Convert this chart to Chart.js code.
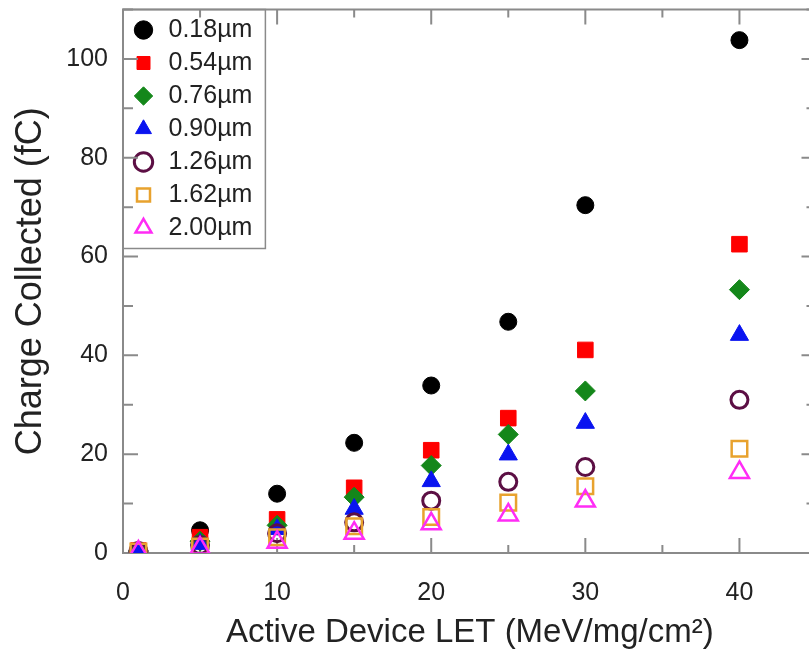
<!DOCTYPE html>
<html>
<head>
<meta charset="utf-8">
<title>Charge Collected vs LET</title>
<script src="https://cdn.jsdelivr.net/npm/chart.js@4.4.1/dist/chart.umd.min.js"></script>
<style>
  html, body { margin: 0; padding: 0; background: #fff; overflow: hidden; }
  #wrap { width: 830px; height: 672px; margin-top: -4px; }
</style>
</head>
<body>
<div id="wrap"><canvas id="chargeChart" width="830" height="672"></canvas></div>
<script>
// LET values (MeV/mg/cm2) shared by every series
const letValues = [1, 5, 10, 15, 20, 25, 30, 40];

// charge collected (fC) per feature size
const q018 = [0.5, 4.6, 12.0, 22.3, 33.9, 46.8, 70.4, 103.8];
const q054 = [0.5, 3.2, 6.8, 13.2, 20.8, 27.3, 41.1, 62.5];
const q076 = [0.4, 2.4, 5.6, 11.3, 17.7, 24.0, 32.8, 53.3];
const q090 = [0.3, 1.8, 4.8, 8.9, 14.5, 19.9, 26.3, 44.1];
const q126 = [0.4, 1.6, 4.0, 6.2, 10.6, 14.4, 17.4, 31.0];
const q162 = [0.3, 1.3, 3.2, 5.4, 7.3, 10.2, 13.5, 21.1];
const q200 = [0.2, 1.0, 2.2, 4.0, 5.9, 7.7, 10.5, 16.3];

const seriesLabels = ["0.18µm", "0.54µm", "0.76µm", "0.90µm", "1.26µm", "1.62µm", "2.00µm"];

// tick labels and tick marks
const xTickLabels = [0, 10, 20, 30, 40];
const yTickLabels = [0, 20, 40, 60, 80, 100];
const xTickMarks = [0, 5, 10, 15, 20, 25, 30, 35, 40, 45];
const yTickMarks = [0, 10, 20, 30, 40, 50, 60, 70, 80, 90, 100, 110];

const FRAME = "#8a8a8a";
const TEXT = "#222";

Chart.defaults.font.family = '"Liberation Sans", Arial, Helvetica, sans-serif';
Chart.defaults.color = TEXT;

function pts(vals) {
  return letValues.map((x, i) => ({ x: x, y: vals[i] }));
}

function series(label, vals, style, color, radius, filled, bw, order) {
  return {
    label: label,
    data: pts(vals),
    pointStyle: style,
    pointRadius: radius,
    pointHoverRadius: radius,
    pointBackgroundColor: filled ? color : "rgba(0,0,0,0)",
    pointBorderColor: color,
    pointBorderWidth: bw,
    backgroundColor: filled ? color : "rgba(0,0,0,0)",
    borderColor: color,
    borderWidth: bw,
    showLine: false,
    order: order,
  };
}

// draws the box frame and inward tick marks from the scales
const framePlugin = {
  id: "frame",
  afterLayout(chart) {
    // pin the legend to the top-left corner of the plot box
    const lg = chart.legend;
    const dy = chart.chartArea.top - lg.top;
    lg.top += dy;
    lg.bottom += dy;
    (lg.legendHitBoxes || []).forEach((b) => { b.top += dy; });
  },
  beforeDatasetsDraw(chart) {
    const { ctx, chartArea: a, scales } = chart;
    const x = scales.x, y = scales.y;
    ctx.save();
    ctx.strokeStyle = FRAME;
    ctx.lineWidth = 2;
    ctx.strokeRect(a.left, a.top, a.right - a.left, a.bottom - a.top);
    ctx.beginPath();
    xTickMarks.forEach((v) => {
      const px = x.getPixelForValue(v);
      const len = xTickLabels.includes(v) ? 15 : 8;
      ctx.moveTo(px, a.bottom);
      ctx.lineTo(px, a.bottom - len);
      ctx.moveTo(px, a.top);
      ctx.lineTo(px, a.top + len);
    });
    yTickMarks.forEach((v) => {
      const py = y.getPixelForValue(v);
      const len = yTickLabels.includes(v) ? 15 : 10;
      ctx.moveTo(a.left, py);
      ctx.lineTo(a.left + len, py);
      ctx.moveTo(a.right, py);
      ctx.lineTo(a.right - len, py);
    });
    ctx.stroke();
    ctx.restore();
  },
  afterDraw(chart) {
    const lg = chart.legend;
    const boxes = lg.legendHitBoxes;
    if (!boxes || !boxes.length) return;
    const last = boxes[boxes.length - 1];
    const pad = lg.options.labels.padding;
    const ctx = chart.ctx;
    ctx.save();
    ctx.strokeStyle = FRAME;
    ctx.lineWidth = 1.5;
    ctx.strokeRect(lg.left, lg.top, lg.width + 3, last.top + last.height + pad - lg.top);
    ctx.restore();
  },
};

new Chart(document.getElementById("chargeChart"), {
  type: "scatter",
  data: {
    datasets: [
      series(seriesLabels[0], q018, "circle", "#000000", 8.5, true, 1, 7),
      series(seriesLabels[1], q054, "rect", "#ff0000", 11, true, 1, 6),
      series(seriesLabels[2], q076, "rectRot", "#14871a", 10, true, 1, 5),
      series(seriesLabels[3], q090, "triangle", "#0a14f0", 10.5, true, 1, 4),
      series(seriesLabels[4], q126, "circle", "#5c0f44", 8.5, false, 3, 3),
      series(seriesLabels[5], q162, "rect", "#e8a22e", 11, false, 2.5, 2),
      series(seriesLabels[6], q200, "triangle", "#ff2cf5", 11, false, 2.5, 1),
    ],
  },
  plugins: [framePlugin],
  options: {
    responsive: false,
    animation: false,
    events: [],
    layout: { padding: { top: 8, right: 10, left: 0, bottom: 0 } },
    plugins: {
      tooltip: { enabled: false },
      legend: {
        position: "chartArea",
        align: "start",
        labels: {
          usePointStyle: true,
          boxHeight: 13,
          padding: 8,
          color: TEXT,
          font: { size: 25 },
          sort: (a, b) => a.datasetIndex - b.datasetIndex,
        },
      },
    },
    scales: {
      x: {
        type: "linear",
        min: 0,
        max: 45,
        afterBuildTicks: (scale) => {
          scale.ticks = xTickLabels.map((v) => ({ value: v }));
        },
        afterFit: (scale) => {
          scale.height = 115;
          scale.paddingLeft = 0;
          scale.paddingRight = 0;
        },
        grid: { display: false, drawTicks: false },
        border: { display: false },
        ticks: { padding: 25, font: { size: 25 }, color: TEXT, maxRotation: 0 },
        title: {
          display: true,
          text: "Active Device LET (MeV/mg/cm²)",
          font: { size: 33 },
          color: TEXT,
          padding: { top: 0, bottom: 15 },
        },
      },
      y: {
        type: "linear",
        min: 0,
        max: 110,
        afterBuildTicks: (scale) => {
          scale.ticks = yTickLabels.map((v) => ({ value: v }));
        },
        afterFit: (scale) => {
          scale.width = 123;
          scale.paddingTop = 0;
          scale.paddingBottom = 0;
        },
        grid: { display: false, drawTicks: false },
        border: { display: false },
        ticks: { padding: 15, font: { size: 25 }, color: TEXT },
        title: {
          display: true,
          text: "Charge Collected (fC)",
          font: { size: 36 },
          color: TEXT,
          padding: { top: 9, bottom: 0 },
        },
      },
    },
  },
});
</script>
</body>
</html>
